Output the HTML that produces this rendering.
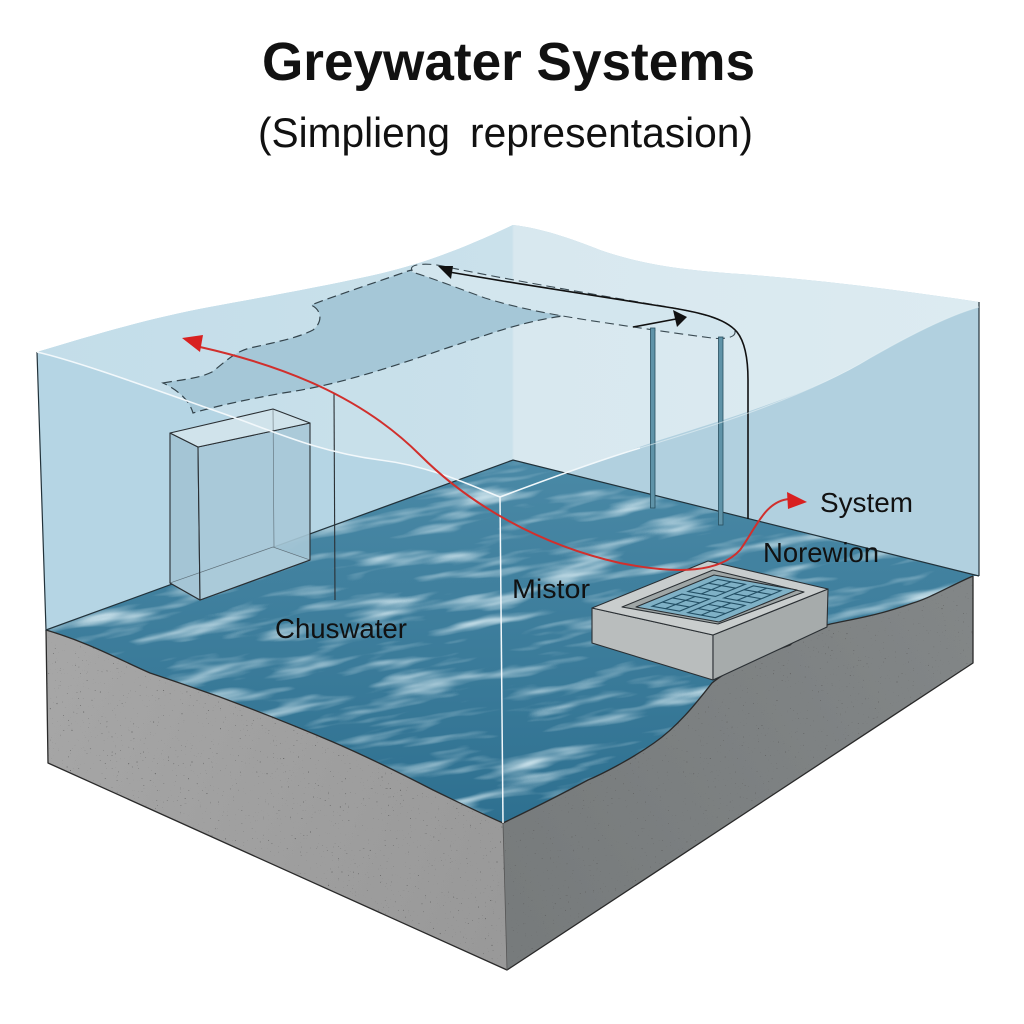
<!DOCTYPE html>
<html><head><meta charset="utf-8"><style>html,body{margin:0;padding:0;background:#fff;width:1024px;height:1024px;overflow:hidden}svg{display:block;overflow:hidden}</style></head>
<body>
<svg width="1024" height="1024" viewBox="0 0 1024 1024" xmlns="http://www.w3.org/2000/svg">
<defs>
  <filter id="wf" x="0" y="0" width="1" height="1">
    <feTurbulence type="fractalNoise" baseFrequency="0.011 0.065" numOctaves="3" seed="7"/>
    <feColorMatrix type="matrix" values="0 0 0 0 0.68  0 0 0 0 0.83  0 0 0 0 0.89  2.4 0 0 0 -1.2"/>
  </filter>
  <filter id="spk" x="0" y="0" width="1" height="1">
    <feTurbulence type="fractalNoise" baseFrequency="0.6" numOctaves="1" seed="4"/>
    <feColorMatrix type="matrix" values="0 0 0 0 0.12  0 0 0 0 0.12  0 0 0 0 0.12  -16 0 0 0 4.5"/>
  </filter>
  <linearGradient id="wg" gradientUnits="userSpaceOnUse" x1="500" y1="460" x2="500" y2="823">
    <stop offset="0" stop-color="#4a89a6"/><stop offset="1" stop-color="#2e7090"/>
  </linearGradient>
  <linearGradient id="ug" gradientUnits="userSpaceOnUse" x1="37" y1="0" x2="987" y2="0">
    <stop offset="0" stop-color="#c3dde9"/><stop offset="0.5" stop-color="#cae1eb"/>
    <stop offset="0.502" stop-color="#d8e8ef"/><stop offset="1" stop-color="#dcebf1"/>
  </linearGradient>
  <linearGradient id="lg" gradientUnits="userSpaceOnUse" x1="46" y1="700" x2="507" y2="900">
    <stop offset="0" stop-color="#a6a6a6"/><stop offset="1" stop-color="#999999"/>
  </linearGradient>
  <linearGradient id="rg" gradientUnits="userSpaceOnUse" x1="507" y1="900" x2="976" y2="620">
    <stop offset="0" stop-color="#777b7c"/><stop offset="1" stop-color="#828687"/>
  </linearGradient>
  <clipPath id="wc"><path d="M46,630 L513,460 L979,576 L973,576 C950,586 930,598 913,603 C890,611 875,615 850,620 C830,624 810,626 790,645 C760,656 730,668 712,683 C700,698 680,725 654,743 C630,760 600,775 588,780 C560,795 530,810 503,823 C480,813 460,803 433,790 C400,773 370,758 333,742 C300,728 260,712 220,697 C200,690 180,683 150,673 C120,660 90,643 46,630 Z"/></clipPath>
  <clipPath id="lc"><path d="M46,630 C90,643 120,660 150,673 C180,683 200,690 220,697 C260,712 300,728 333,742 C370,758 400,773 433,790 C460,803 480,813 503,823 L507,970 L48,763 Z"/></clipPath>
  <clipPath id="rc"><path d="M503,823 C530,810 560,795 588,780 C600,775 630,760 654,743 C680,725 700,698 712,683 C730,668 760,656 790,645 C810,626 830,624 850,620 C875,615 890,611 913,603 C930,598 950,586 973,576 L973,663 L507,970 Z"/></clipPath>
</defs>

<!-- Title -->
<text x="262" y="80" font-family="'Liberation Sans', Arial, sans-serif" font-weight="bold" font-size="54" textLength="493" lengthAdjust="spacingAndGlyphs" fill="#111">Greywater Systems</text>
<text x="258" y="147" font-family="'Liberation Sans', Arial, sans-serif" font-size="42" textLength="192" lengthAdjust="spacingAndGlyphs" fill="#111">(Simplieng</text>
<text x="470" y="147" font-family="'Liberation Sans', Arial, sans-serif" font-size="42" textLength="283" lengthAdjust="spacingAndGlyphs" fill="#111">representasion)</text>

<!-- Concrete -->
<path d="M46,630 C90,643 120,660 150,673 C180,683 200,690 220,697 C260,712 300,728 333,742 C370,758 400,773 433,790 C460,803 480,813 503,823 L507,970 L48,763 Z" fill="url(#lg)"/>
<path d="M503,823 C530,810 560,795 588,780 C600,775 630,760 654,743 C680,725 700,698 712,683 C730,668 760,656 790,645 C810,626 830,624 850,620 C875,615 890,611 913,603 C930,598 950,586 973,576 L973,663 L507,970 Z" fill="url(#rg)"/>
<g clip-path="url(#lc)"><rect x="40" y="620" width="480" height="360" filter="url(#spk)"/></g>
<g clip-path="url(#rc)"><rect x="500" y="570" width="480" height="410" filter="url(#spk)"/></g>

<!-- Walls -->
<path d="M37,352 C90,336 150,318 210,307 C270,296 320,287 370,276 C420,265 460,250 513,225 L513,460 L46,630 Z" fill="#b5d5e4"/>
<path d="M513,225 C540,228 570,238 600,250 C640,264 680,270 740,274 C820,280 900,290 979,302 L979,576 L513,460 Z" fill="#b1d0df"/>
<path d="M37,352 C90,336 150,318 210,307 C270,296 320,287 370,276 C420,265 460,250 513,225 C540,228 570,238 600,250 C640,264 680,270 740,274 C820,280 900,290 979,302 L979,307 C950,315 910,335 870,358 C820,390 740,415 660,440 C600,460 540,482 500,497 C470,485 430,466 380,460 C320,452 280,434 230,416 C150,388 80,362 37,352 Z" fill="url(#ug)"/>

<!-- Water floor -->
<path d="M46,630 L513,460 L979,576 L973,576 C950,586 930,598 913,603 C890,611 875,615 850,620 C830,624 810,626 790,645 C760,656 730,668 712,683 C700,698 680,725 654,743 C630,760 600,775 588,780 C560,795 530,810 503,823 C480,813 460,803 433,790 C400,773 370,758 333,742 C300,728 260,712 220,697 C200,690 180,683 150,673 C120,660 90,643 46,630 Z" fill="url(#wg)"/>
<g clip-path="url(#wc)"><rect x="-60" y="380" width="1140" height="560" transform="rotate(-10 512 650)" filter="url(#wf)"/></g>

<!-- Concrete outlines -->
<g fill="none" stroke="#2a2a2a" stroke-width="1.3" stroke-linejoin="round">
<path d="M46,630 C90,643 120,660 150,673 C180,683 200,690 220,697 C260,712 300,728 333,742 C370,758 400,773 433,790 C460,803 480,813 503,823 C530,810 560,795 588,780 C600,775 630,760 654,743 C680,725 700,698 712,683 C730,668 760,656 790,645 C810,626 830,624 850,620 C875,615 890,611 913,603 C930,598 950,586 973,576"/>
<path d="M46,630 L48,763 L507,970 L973,663 L973,576"/>
<path d="M503,823 L507,970" stroke="#555" stroke-width="0.8"/>
</g>

<!-- Glass edges -->
<g fill="none" stroke="#22323a" stroke-width="1.2">
<path d="M37,352 L46,630 L513,460 L979,576"/>
<path d="M979,302 L979,576"/>
</g>

<!-- Sheet -->
<path d="M163,383 C178,380 198,379 212,372 C224,363 234,352 250,348 C272,343 298,338 313,330 C323,322 322,310 311,305 C340,294 380,281 408,271 C425,266 445,268 460,276 C490,292 520,305 563,316 C520,322 490,334 450,347 C400,364 340,385 283,393 C250,399 220,405 193,413 C190,402 180,391 163,383 Z" fill="#a5c7d7" stroke="#34444c" stroke-width="1.2" stroke-dasharray="9 5"/>
<!-- Tongue -->
<path d="M412,270 C408,264 428,262 447,267 C500,278 580,292 650,304 C695,311 722,318 733,328 C740,336 728,340 712,338 C680,334 640,328 600,322 C560,316 520,309 485,298 C460,289 432,278 412,272 Z" fill="#d3e6ee" stroke="#3a4a52" stroke-width="1.1" stroke-dasharray="9 5"/>

<!-- Pillars -->
<rect x="650.5" y="328" width="4.5" height="180" fill="#5f93a8" stroke="#274e5e" stroke-width="0.8"/>
<rect x="718.5" y="337" width="4.5" height="188" fill="#5f93a8" stroke="#274e5e" stroke-width="0.8"/>

<!-- Black line / arrows -->
<path d="M449,272 C520,284 600,297 660,306 C700,312 725,318 737,332 C745,342 748,360 748,380 L748,519" fill="none" stroke="#111" stroke-width="1.6"/>
<polygon points="438,266 453,266 451,279" fill="#111"/>
<path d="M633,327 L676,319" stroke="#111" stroke-width="1.6"/>
<polygon points="687,317 673,310 677,327" fill="#111"/>

<!-- Left box -->
<g stroke="#2a2f33" stroke-width="1.1" stroke-linejoin="round">
<path d="M170,583 L273,547 L310,560 L200,600 Z" fill="#c4dbe5"/>
<path d="M170,433 L198,447 L200,600 L170,583 Z" fill="#a3c4d4" fill-opacity="0.95"/>
<path d="M198,447 L310,423 L310,560 L200,600 Z" fill="#a7c8d7" fill-opacity="0.9"/>
<path d="M170,433 L273,409 L310,423 L198,447 Z" fill="#d0e3eb"/>
<path d="M273,409 L274,547 M170,583 L273,547 L310,560" fill="none" stroke-width="0.6" stroke-opacity="0.6"/>
</g>
<path d="M334,393 L335,600" stroke="#2a2f33" stroke-width="1.1"/>

<!-- White water line / front edge -->
<path d="M37,352 C80,362 150,388 230,416 C280,434 320,452 380,460 C430,466 470,485 500,497 C540,482 600,460 640,448" fill="none" stroke="#f2f8fb" stroke-width="1.6"/>
<path d="M640,448 C700,430 800,400 870,358 C910,335 950,315 979,307" fill="none" stroke="#e6f1f5" stroke-width="1" stroke-opacity="0.6"/>
<path d="M500,497 L503,823" stroke="#f2f8fb" stroke-width="1.5"/>

<!-- Filter box -->
<g stroke="#2a2f33" stroke-width="1.1" stroke-linejoin="round">
<path d="M592,608 L713,635 L713,680 L592,643 Z" fill="#b9bdbd"/>
<path d="M713,635 L828,589 L827,627 L713,680 Z" fill="#a6abab"/>
<path d="M592,608 L708,561 L828,589 L713,635 Z" fill="#c9cdcd"/>
<path d="M622,607 L713,570 L804,592 L718,624 Z" fill="#9fa6a6"/>
<path d="M636,607 L714,575 L797,590 L719,622 Z" fill="#7fb1c6"/>
</g>
<g transform="matrix(78,-32,83,15,636,607)" fill="none" stroke="#234f64" stroke-width="1.1">
<rect x="0.08" y="0.12" width="0.38" height="0.33" vector-effect="non-scaling-stroke"/>
<rect x="0.54" y="0.12" width="0.38" height="0.33" vector-effect="non-scaling-stroke"/>
<rect x="0.08" y="0.55" width="0.38" height="0.33" vector-effect="non-scaling-stroke"/>
<rect x="0.54" y="0.55" width="0.38" height="0.33" vector-effect="non-scaling-stroke"/>
<path d="M0.21,0.12 V0.45 M0.34,0.12 V0.45 M0.08,0.28 H0.46 M0.67,0.12 V0.45 M0.80,0.12 V0.45 M0.54,0.28 H0.92 M0.21,0.55 V0.88 M0.34,0.55 V0.88 M0.08,0.71 H0.46 M0.67,0.55 V0.88 M0.80,0.55 V0.88 M0.54,0.71 H0.92" vector-effect="non-scaling-stroke"/>
</g>

<!-- Red arrow -->
<path d="M200,347 C280,365 360,395 420,455 C470,505 540,545 620,563 C680,575 720,572 740,550 C755,530 765,500 790,499" fill="none" stroke="#d12f2c" stroke-width="2"/>
<polygon points="182,338 203,335 200,352" fill="#d82020"/>
<polygon points="807,502 787,492 788,509" fill="#d82020"/>

<!-- Labels -->
<g font-family="'Liberation Sans', Arial, sans-serif" fill="#111">
<text x="820" y="512" font-size="28" textLength="93" lengthAdjust="spacingAndGlyphs">System</text>
<text x="763" y="562" font-size="28" textLength="116" lengthAdjust="spacingAndGlyphs">Norewion</text>
<text x="512" y="598" font-size="27" textLength="78" lengthAdjust="spacingAndGlyphs">Mistor</text>
<text x="275" y="638" font-size="28" textLength="132" lengthAdjust="spacingAndGlyphs">Chuswater</text>
</g>
</svg>
</body></html>
